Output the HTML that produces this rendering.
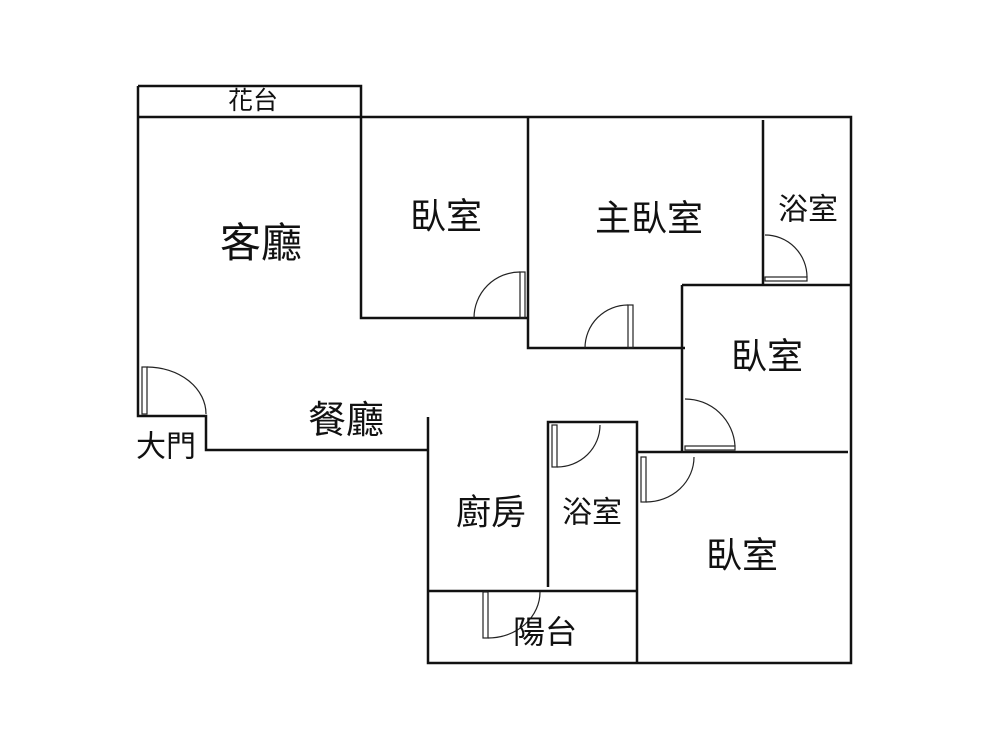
<!DOCTYPE html>
<html><head><meta charset="utf-8"><style>
html,body{margin:0;padding:0;background:#fff;}
text{font-family:"Liberation Sans","Noto Sans CJK TC",sans-serif;fill:#111;text-anchor:middle;dominant-baseline:central;}
</style></head><body>
<svg width="1000" height="750" viewBox="0 0 1000 750" xmlns="http://www.w3.org/2000/svg">
<g stroke="#111" stroke-width="2.5" fill="none">
<path d="M138 86 H361 V117"/>
<path d="M138 117 H851 V663 H428 V417"/>
<path d="M138 86 V416 H206 V450 H428"/>
<path d="M361 117 V318 H528"/>
<path d="M528 117 V348 H685"/>
<path d="M763 120 V285"/>
<path d="M682 285 H851"/>
<path d="M682 285 V452"/>
<path d="M637 452 H848"/>
<path d="M548 587 V422 H637 V663"/>
<path d="M428 591 H637"/>
</g>
<g stroke="#222" stroke-width="1.2" fill="none">
<rect x="520" y="272" width="5" height="46"/>
<path d="M520 272 A46 46 0 0 0 474 318"/>
<rect x="628" y="305" width="5" height="43"/>
<path d="M628 305 A43 43 0 0 0 585 348"/>
<rect x="765" y="277" width="42" height="4"/>
<path d="M765 235 A42 42 0 0 1 807 277"/>
<rect x="685" y="446" width="50" height="4"/>
<path d="M685 399 A50 50 0 0 1 735 446"/>
<rect x="142" y="367" width="5" height="47"/>
<path d="M147 367 A59 47 0 0 1 206 414"/>
<rect x="552" y="425" width="5" height="42"/>
<path d="M557 467 A43 42 0 0 0 600 425"/>
<rect x="641" y="457" width="5" height="45"/>
<path d="M646 502 A48 45 0 0 0 694 457"/>
<rect x="483" y="592" width="5" height="46"/>
<path d="M488 638 A52 46 0 0 0 540 592"/>
</g>
<text x="253" y="101" font-size="25">花台</text>
<text x="261" y="243" font-size="41">客廳</text>
<text x="446" y="216" font-size="36">臥室</text>
<text x="649" y="218" font-size="36">主臥室</text>
<text x="808" y="210" font-size="30">浴室</text>
<text x="767" y="356" font-size="36">臥室</text>
<text x="346" y="421" font-size="38">餐廳</text>
<text x="166" y="447" font-size="30">大門</text>
<text x="491" y="513" font-size="35">廚房</text>
<text x="592" y="513" font-size="30">浴室</text>
<text x="742" y="555" font-size="36">臥室</text>
<text x="545" y="632" font-size="32">陽台</text>
</svg>
</body></html>
